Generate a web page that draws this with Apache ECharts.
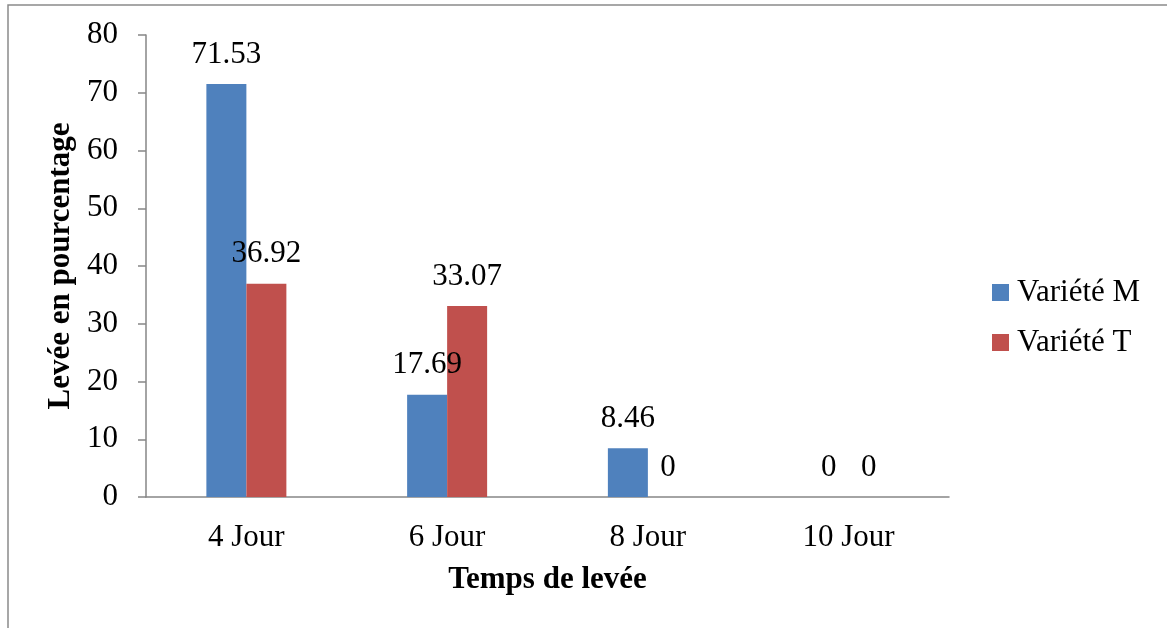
<!DOCTYPE html>
<html>
<head>
<meta charset="utf-8">
<script src="https://cdn.jsdelivr.net/npm/echarts@6/dist/echarts.min.js"></script>
<style>
html,body{margin:0;padding:0;background:#fff;}
#chart{width:1167px;height:628px;}
</style>
</head>
<body>
<div id="chart"></div>
<script>
const categories = ['4 Jour', '6 Jour', '8 Jour', '10 Jour'];
const varieteM = [71.53, 17.69, 8.46, 0];
const varieteT = [36.92, 33.07, 0, 0];
const seriesNames = ['Variété M', 'Variété T'];
const yTicks = { min: 0, max: 80, interval: 10 };

const FONT = '"Liberation Serif", "Times New Roman", serif';
const FS = 31;
const chart = echarts.init(document.getElementById('chart'));
const labelStyle = {
  show: true, position: 'top', distance: 14,
  fontFamily: FONT, fontSize: FS, color: '#000', lineHeight: 31
};
chart.setOption({
  animation: false,
  backgroundColor: '#fff',
  graphic: [{
    type: 'rect', silent: true,
    shape: { x: 8, y: 5, width: 2000, height: 2000 },
    style: { fill: 'none', stroke: '#8a8a8a', lineWidth: 1.5 }
  }],
  grid: { left: 146, top: 35, right: 218, bottom: 131 },
  legend: {
    orient: 'vertical', left: 992, top: 277, padding: 0,
    itemWidth: 17, itemHeight: 17, itemGap: 19,
    icon: 'rect',
    textStyle: { fontFamily: FONT, fontSize: FS, color: '#000', lineHeight: 31, padding: [0,0,0,3] },
    data: seriesNames
  },
  xAxis: {
    type: 'category', data: categories,
    name: 'Temps de levée', nameLocation: 'middle', nameGap: 67,
    nameTextStyle: { fontFamily: FONT, fontSize: FS, fontWeight: 'bold', color: '#000' },
    axisLine: { lineStyle: { color: '#868686', width: 1.5 } },
    axisTick: { show: false },
    axisLabel: { fontFamily: FONT, fontSize: FS, color: '#000', margin: 25 }
  },
  yAxis: {
    type: 'value', min: yTicks.min, max: yTicks.max, interval: yTicks.interval,
    name: 'Levée en pourcentage', nameLocation: 'middle', nameGap: 66, nameRotate: 90,
    nameTextStyle: { fontFamily: FONT, fontSize: FS, fontWeight: 'bold', color: '#000' },
    axisLine: { show: true, lineStyle: { color: '#868686', width: 1.5 } },
    axisTick: { show: true, length: 8, lineStyle: { color: '#868686', width: 1.5 } },
    splitLine: { show: false },
    axisLabel: { fontFamily: FONT, fontSize: FS, color: '#000', margin: 28 }
  },
  series: [
    { name: seriesNames[0], type: 'bar', data: varieteM, barWidth: 40, barGap: '0%',
      itemStyle: { color: '#4F81BD' }, label: labelStyle },
    { name: seriesNames[1], type: 'bar', data: varieteT, barWidth: 40, barGap: '0%',
      itemStyle: { color: '#C0504D' }, label: labelStyle }
  ]
});
</script>
</body>
</html>
